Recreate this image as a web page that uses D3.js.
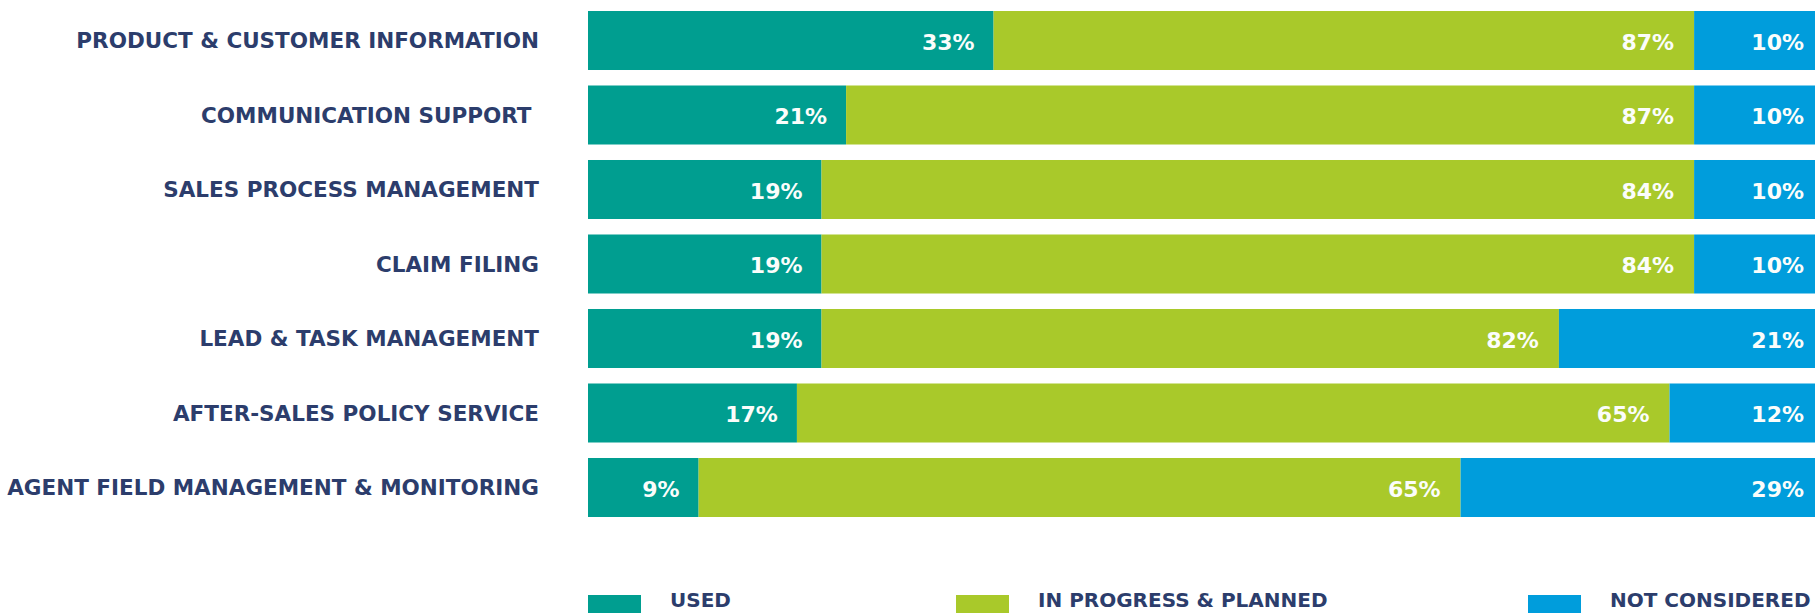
<!DOCTYPE html>
<html>
<head>
<meta charset="utf-8">
<script src="https://cdn.jsdelivr.net/npm/d3@7/dist/d3.min.js"></script>
<style>
  html, body { margin: 0; padding: 0; background: #ffffff; }
  svg { display: block; }
  text { font-family: "DejaVu Sans", "Open Sans", sans-serif; font-weight: bold; white-space: pre; }
</style>
</head>
<body>
<svg id="chart" width="1815" height="613"></svg>
<script>
// Adoption of digital tools by function (share of respondents, %)
const categories = [
  "PRODUCT & CUSTOMER INFORMATION",
  "COMMUNICATION SUPPORT ",
  "SALES PROCESS MANAGEMENT",
  "CLAIM FILING",
  "LEAD & TASK MANAGEMENT",
  "AFTER-SALES POLICY SERVICE",
  "AGENT FIELD MANAGEMENT & MONITORING"
];
const used          = [33, 21, 19, 19, 19, 17, 9];
const inProgress    = [87, 87, 84, 84, 82, 65, 65];
const notConsidered = [10, 10, 10, 10, 21, 12, 29];
const seriesNames   = ["USED", "IN PROGRESS & PLANNED", "NOT CONSIDERED"];

const colors = { used: "#009e90", progress: "#a9c92a", not: "#009ddc" };
const labelColor = "#2c3d6c";

const rows = categories.map((c, i) => ({
  cat: c, used: used[i], progress: inProgress[i], not: notConsidered[i]
}));

const svg = d3.select("#chart");

const x = d3.scaleLinear().domain([0, 100]).range([588, 1817]);
const y = d3.scaleBand()
  .domain(categories)
  .range([3.25, 524.75])
  .paddingInner(0.208)
  .paddingOuter(0.104);

const g = svg.append("g");

const row = g.selectAll("g.row").data(rows).join("g").attr("class", "row");

// used segment from the left edge
row.append("rect")
  .attr("x", x(0))
  .attr("y", d => y(d.cat))
  .attr("width", d => x(d.used) - x(0))
  .attr("height", y.bandwidth())
  .attr("fill", colors.used);

// in progress & planned segment fills the space between the other two
row.append("rect")
  .attr("x", d => x(d.used))
  .attr("y", d => y(d.cat))
  .attr("width", d => x(100 - d.not) - x(d.used))
  .attr("height", y.bandwidth())
  .attr("fill", colors.progress);

// not considered segment anchored at the right edge
row.append("rect")
  .attr("x", d => x(100 - d.not))
  .attr("y", d => y(d.cat))
  .attr("width", d => x(100) - x(100 - d.not))
  .attr("height", y.bandwidth())
  .attr("fill", colors.not);

const mid = d => y(d.cat) + y.bandwidth() / 2;

// value labels
const valueStyle = sel => sel
  .attr("text-anchor", "end")
  .attr("font-size", 22)
  .attr("fill", "#fbfdfb");

row.append("text").call(valueStyle)
  .attr("x", d => x(d.used) - 19)
  .attr("y", d => mid(d) + 9)
  .text(d => d.used + "%");

row.append("text").call(valueStyle)
  .attr("x", d => x(100 - d.not) - 20)
  .attr("y", d => mid(d) + 9)
  .text(d => d.progress + "%");

row.append("text").call(valueStyle)
  .attr("x", x(100) - 13)
  .attr("y", d => mid(d) + 9)
  .text(d => d.not + "%");

// category labels
g.selectAll("text.cat").data(rows).join("text")
  .attr("class", "cat")
  .attr("x", 539)
  .attr("y", d => mid(d) + 7.5)
  .attr("text-anchor", "end")
  .attr("font-size", 21.5)
  .attr("fill", labelColor)
  .text(d => d.cat);

// legend
const legendX = [588, 956, 1528];
const legendFill = [colors.used, colors.progress, colors.not];
const legend = svg.append("g").selectAll("g").data(seriesNames).join("g")
  .attr("transform", (d, i) => `translate(${legendX[i]},595)`);
legend.append("rect")
  .attr("width", 53).attr("height", 30)
  .attr("fill", (d, i) => legendFill[i]);
legend.append("text")
  .attr("x", 82)
  .attr("y", 12)
  .attr("font-size", 20)
  .attr("fill", labelColor)
  .text(d => d);
</script>
</body>
</html>
